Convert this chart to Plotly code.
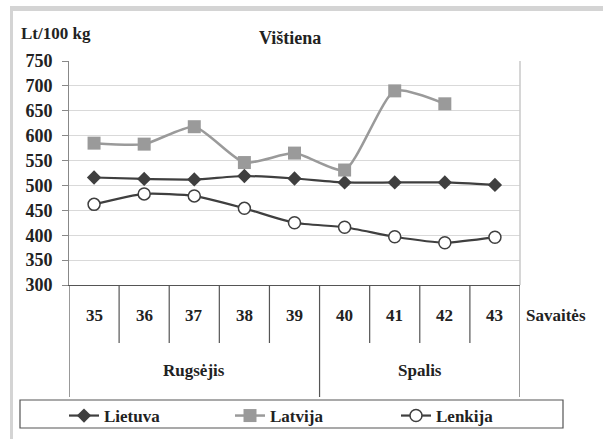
import plotly.graph_objects as go

weeks = [35, 36, 37, 38, 39, 40, 41, 42, 43]
lietuva = [516, 513, 512, 519, 514, 506, 506, 506, 501]
latvija = [585, 583, 618, 546, 565, 531, 690, 664, None]
lenkija = [462, 483, 479, 454, 425, 416, 397, 385, 396]
months = ["Rugsėjis", "Spalis"]
month_spans = [(35, 39), (40, 43)]

FONT = "Liberation Serif, Times New Roman, serif"
DARK = "#3f3f3f"
GREY = "#9a9a9a"
TXT = "#222222"

# plot area in pixels: x 69..520, y 61..285
W, H = 603, 439
L, R, T, B = 69, 520, 61, 285
pw, ph = R - L, B - T


def px(x):
    return (x - L) / pw


def py(y):
    return (B - y) / ph


def bold(size):
    return dict(family=FONT, size=size, color=TXT, weight="bold")


def label(text, x, y, xref="x", size=17, xanchor="center"):
    return dict(x=x, y=py(y), xref=xref, yref="paper", text=text, showarrow=False,
                xanchor=xanchor, yanchor="middle", font=bold(size))


fig = go.Figure()
fig.add_trace(go.Scatter(
    x=weeks, y=lietuva, name="Lietuva", mode="lines+markers",
    line=dict(color=DARK, width=2.2, shape="spline", smoothing=0.6),
    marker=dict(symbol="diamond", size=11, color=DARK),
))
fig.add_trace(go.Scatter(
    x=weeks, y=latvija, name="Latvija", mode="lines+markers",
    line=dict(color=GREY, width=2.5, shape="spline", smoothing=0.6),
    marker=dict(symbol="square", size=13, color=GREY),
))
fig.add_trace(go.Scatter(
    x=weeks, y=lenkija, name="Lenkija", mode="lines+markers",
    line=dict(color=DARK, width=2.2, shape="spline", smoothing=0.6),
    marker=dict(symbol="circle", size=12, color="white",
                line=dict(color=DARK, width=1.5)),
))

shapes = []
# frame strips
shapes.append(dict(type="rect", xref="paper", yref="paper",
                   x0=px(10), x1=px(W + 5), y0=py(6), y1=py(11),
                   fillcolor="#d4d4d4", line_width=0, layer="below"))
shapes.append(dict(type="rect", xref="paper", yref="paper",
                   x0=px(10), x1=px(13), y0=py(6), y1=py(H + 5),
                   fillcolor="#d4d4d4", line_width=0, layer="below"))
# right border of plot
shapes.append(dict(type="line", xref="paper", yref="paper",
                   x0=1, x1=1, y0=0, y1=1, line=dict(color="#c8c8c8", width=1.5)))
# category table lines
for i in range(len(weeks) + 1):
    xb = weeks[0] - 0.5 + i
    month_edge = xb in (34.5, 39.5, 43.5)
    shapes.append(dict(type="line", xref="x", yref="paper",
                       x0=xb, x1=xb, y0=0, y1=py(397 if month_edge else 343),
                       line=dict(color="#555555", width=1.2)))
# legend box
shapes.append(dict(type="rect", xref="paper", yref="paper",
                   x0=px(20), x1=px(563), y0=py(400), y1=py(428),
                   line=dict(color="#555555", width=1.2), fillcolor="rgba(0,0,0,0)"))

ann = [label(str(w), w, 315) for w in weeks]
ann += [label(m, (a + b) / 2, 370) for m, (a, b) in zip(months, month_spans)]
ann.append(label("Savaitės", px(524), 315, xref="paper", xanchor="left"))
ann.append(label("Lt/100 kg", px(19), 33, xref="paper", xanchor="left"))
ann.append(label("Vištiena", px(290), 38, xref="paper", size=18))

fig.update_layout(
    width=W, height=H,
    margin=dict(l=L, r=W - R, t=T, b=H - B, autoexpand=False),
    paper_bgcolor="white", plot_bgcolor="white",
    shapes=shapes, annotations=ann,
    showlegend=True,
    legend=dict(orientation="h", x=px(64), y=py(398), xanchor="left", yanchor="top",
                font=bold(17),
                entrywidth=121, entrywidthmode="pixels",
                bgcolor="rgba(0,0,0,0)", borderwidth=0),
    xaxis=dict(range=[34.5, 43.5], showticklabels=False, showgrid=False,
               zeroline=False, showline=True, linecolor="#555555", linewidth=1.2,
               ticks=""),
    yaxis=dict(range=[300, 750], dtick=50, showgrid=True, gridcolor="#d9d9d9",
               gridwidth=1.2, zeroline=False, showline=True, linecolor="#888888",
               ticks="outside", ticklen=6, tickcolor="#888888",
               ticklabelstandoff=6, tickfont=bold(18)),
)

fig.write_html("out.html", config={"displayModeBar": False},
               post_script="document.body.style.margin='0';")
